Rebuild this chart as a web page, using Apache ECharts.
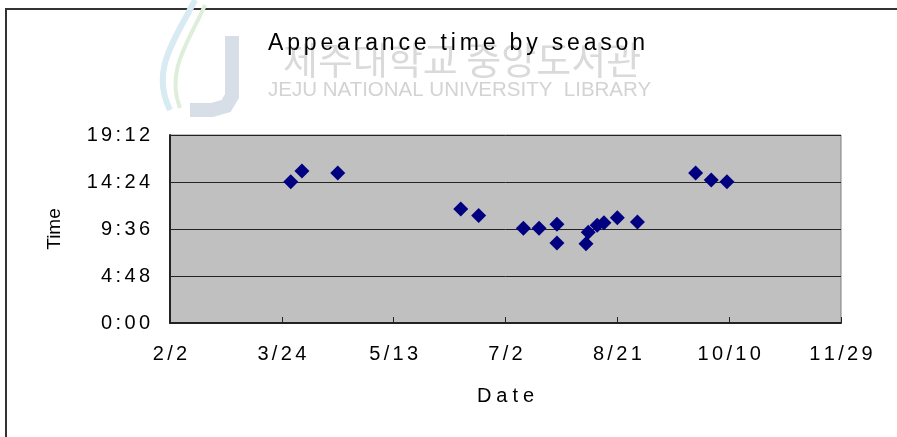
<!DOCTYPE html>
<html>
<head>
<meta charset="utf-8">
<script src="https://cdn.jsdelivr.net/npm/echarts@6/dist/echarts.min.js"></script>
<style>
html,body{margin:0;padding:0;background:#fff}
#chart{width:897px;height:437px}
</style>
</head>
<body>
<div id="chart"></div>
<script>
// sightings: date (M/D) and time of day (H:MM)
const dates = ["3/28","4/2","4/18","6/12","6/20","7/10","7/17","7/25","7/25","8/7","8/8","8/12","8/15","8/21","8/30","9/25","10/2","10/9"]
const times = ["14:26","15:31","15:19","11:39","10:58","9:40","9:40","10:05","8:10","8:06","9:16","9:59","10:15","10:45","10:19","15:19","14:36","14:26"]
const xTickLabels = ["2/2","3/24","5/13","7/2","8/21","10/10","11/29"]
const yTickLabels = ["0:00","4:48","9:36","14:24","19:12"]

const FONT = "'Liberation Sans', Arial, sans-serif"
// 文字间距 (wide letter spacing like the original)
const spread = (s, sp) => s.split("").join(sp)

const base = new Date(2007, 1, 2).getTime()
const dayOf = s => {
	let [m, d] = s.split("/").map(Number)
	return Math.round((new Date(2007, m - 1, d).getTime() - base) / 86400000)
}
const minOf = s => {
	let [h, m] = s.split(":").map(Number)
	return h * 60 + m
}
const points = dates.map((d, i) => [dayOf(d), minOf(times[i])])

const chart = echarts.init(document.getElementById("chart"))
chart.setOption({
	animation: false,
	backgroundColor: "#fff",
	title: {
		text: spread("Appearance time by season", "\u2006"),
		left: 263,
		top: 27,
		textStyle: {fontFamily: FONT, fontSize: 23, fontWeight: "normal", color: "#000"}
	},
	graphic: [
		{type: "rect", z: -10, shape: {x: 6, y: 9, width: 950, height: 480},
			style: {fill: "none", stroke: "#333", lineWidth: 2}},
		// 水印 logo
		{type: "bezierCurve", z: -6,
			shape: {x1: 170, y1: 110, cpx1: 150, cpy1: 70, cpx2: 175, cpy2: 40, x2: 195, y2: 0},
			style: {fill: "none", stroke: "#d8eaf2", lineWidth: 6}},
		{type: "bezierCurve", z: -6,
			shape: {x1: 180, y1: 108, cpx1: 165, cpy1: 70, cpx2: 190, cpy2: 40, x2: 205, y2: 5},
			style: {fill: "none", stroke: "#deeeda", lineWidth: 4}},
		{type: "polyline", z: -6,
			shape: {points: [[232, 36], [232, 96], [226, 106], [212, 110], [190, 110]]},
			style: {fill: "none", stroke: "#d7dee8", lineWidth: 14}},
		{type: "text", z: -5, left: 283, top: 41,
			style: {text: "제주대학교 중앙도서관", font: "38px 'Noto Sans CJK KR'", fill: "#dadada"}},
		{type: "text", z: -5, left: 268, top: 80,
			style: {text: "JEJU NATIONAL UNIVERSITY  LIBRARY", font: "20.5px 'Liberation Sans', sans-serif", fill: "#d3d3d3"}}
	],
	grid: {
		left: 170, right: 56, top: 135, bottom: 114,
		show: true, backgroundColor: "#c0c0c0", borderColor: "#808080", borderWidth: 1
	},
	xAxis: {
		type: "value",
		min: 0, max: 300, interval: 50,
		name: spread("Date", "\u2005"),
		nameLocation: "middle",
		nameGap: 63,
		nameTextStyle: {fontFamily: FONT, fontSize: 20, color: "#000"},
		axisLine: {show: true, lineStyle: {color: "#222", width: 2}},
		axisTick: {show: true, inside: true, length: 6, lineStyle: {color: "#222"}},
		splitLine: {show: false},
		axisLabel: {
			margin: 21,
			fontFamily: FONT, fontSize: 20, color: "#000",
			formatter: v => spread(xTickLabels[Math.round(v / 50)] || "", "\u2006")
		}
	},
	yAxis: {
		type: "value",
		min: 0, max: 1152, interval: 288,
		name: "Time",
		nameLocation: "middle",
		nameRotate: 90,
		nameGap: 106,
		nameTextStyle: {fontFamily: FONT, fontSize: 19, color: "#000"},
		axisLine: {show: true, lineStyle: {color: "#222", width: 2}},
		axisTick: {show: true, inside: true, length: 6, lineStyle: {color: "#222"}},
		splitLine: {show: true, lineStyle: {color: "#222", width: 1}},
		axisLabel: {
			margin: 20,
			fontFamily: FONT, fontSize: 20, color: "#000",
			formatter: v => spread(yTickLabels[Math.round(v / 288)] || "", "\u2006")
		}
	},
	series: [{
		type: "scatter",
		symbol: "diamond",
		symbolSize: 15,
		itemStyle: {color: "#000080", opacity: 1},
		data: points
	}]
})
</script>
</body>
</html>
